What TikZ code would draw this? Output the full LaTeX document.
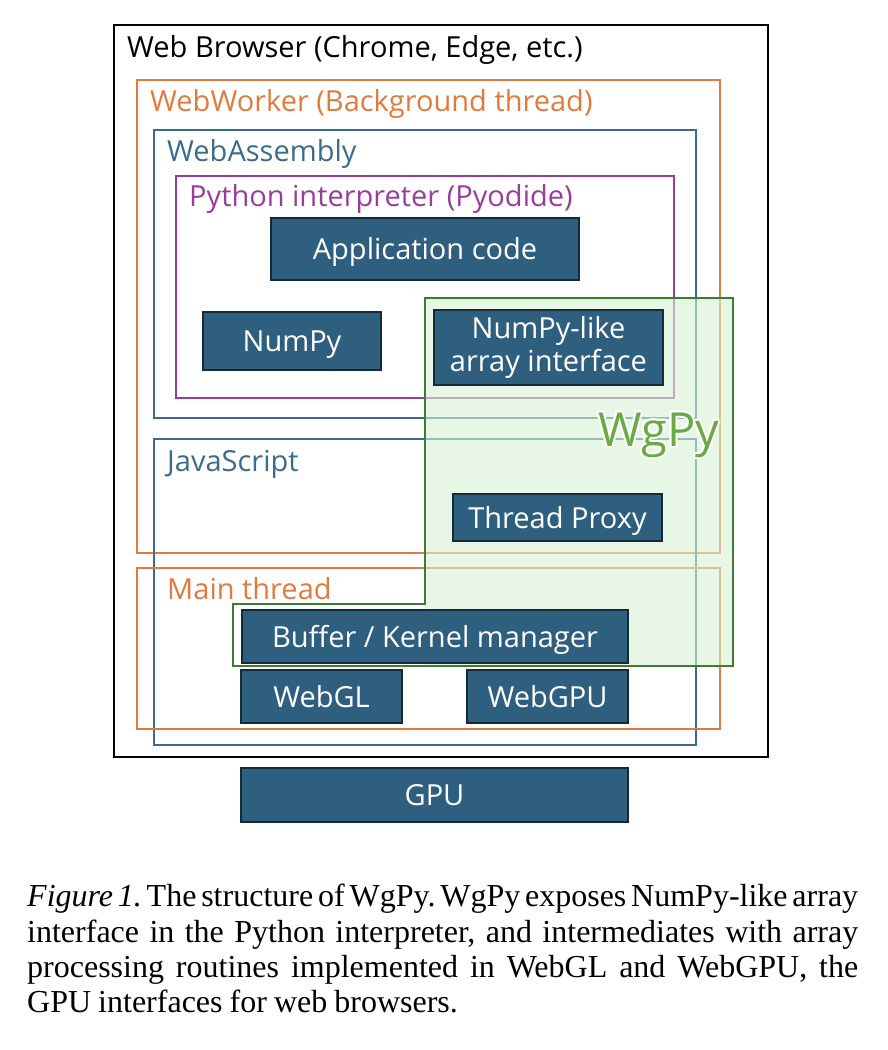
\documentclass[tikz,border=0pt]{standalone}
\usepackage{fontspec}
\setmainfont{Liberation Serif}
\newfontfamily\diagfont{Open Sans}
\usetikzlibrary{fit}
\definecolor{nodefill}{HTML}{2F5F7F}
\definecolor{nodeline}{HTML}{14293A}
\definecolor{worange}{HTML}{E07A3F}
\definecolor{wblue}{HTML}{3A6C8E}
\definecolor{wpurple}{HTML}{993D9C}
\definecolor{wgreenline}{HTML}{3E7C33}
\definecolor{wgreenfill}{HTML}{D8F1D4}
\definecolor{wgreentext}{HTML}{6AAA44}
\begin{document}
\begin{tikzpicture}[x=1pt,y=-1pt,
  containerbox/.style={draw=#1, line width=1.8pt, inner sep=0pt},
  containerlabel/.style={anchor=base west, inner sep=0pt, text=#1, font=\diagfont\fontsize{29}{33}\selectfont},
  darkbox/.style={draw=nodeline, fill=nodefill, line width=1.6pt, inner sep=0pt, text=white, align=center,
    font=\diagfont\fontsize{29}{33}\selectfont},
  oneline/.style={text height=21pt, text depth=0pt},
  wgpystyle/.style={anchor=base west, inner sep=0pt, font=\diagfont\fontsize{47}{52}\selectfont}]
\useasboundingbox (0,0) rectangle (888,1050);
% containers
\node[containerbox=black, fit={(114,25) (768,757)}] (browser) {};
\node[containerlabel=black] (browserlbl) at (127,57) {Web Browser (Chrome, Edge, etc.)};
\node[containerbox=worange, fit={(137,80) (720,553)}] (worker) {};
\node[containerlabel=worange] (workerlbl) at (150,111) {WebWorker (Background thread)};
\node[containerbox=wblue, fit={(154,130) (696,418)}] (wasm) {};
\node[containerlabel=wblue] (wasmlbl) at (167,161) {WebAssembly};
\node[containerbox=wpurple, fit={(176,176) (674,398)}] (python) {};
\node[containerlabel=wpurple] (pythonlbl) at (189,206) {Python interpreter (Pyodide)};
\node[containerbox=wblue, fit={(154,439) (696,745)}] (js) {};
\node[containerlabel=wblue] (jslbl) at (167,471) {JavaScript};
\node[containerbox=worange, fit={(137,568) (720,729)}] (mainthr) {};
\node[containerlabel=worange] (mainlbl) at (167,599) {Main thread};
% WgPy region
\fill[wgreenfill, fill opacity=0.6] (425,298) rectangle (733,666);
\draw[wgreenline, line width=1.8pt] (425,298) -- (733,298) -- (733,666) -- (233,666) -- (233,604) -- (425,604) -- cycle;
% dark boxes
\node[darkbox, oneline, minimum width=308pt, minimum height=62pt] (app) at (425,249) {Application code};
\node[darkbox, oneline, minimum width=178pt, minimum height=58pt] (numpy) at (292,341) {NumPy};
\node[darkbox, minimum width=229pt, minimum height=75pt] (nplike) at (548.5,347.5) {NumPy-like\\array interface};
\node[darkbox, oneline, minimum width=209pt, minimum height=47pt] (proxy) at (557.5,517.5) {Thread Proxy};
\node[darkbox, oneline, minimum width=386pt, minimum height=53pt] (bkm) at (435,636.5) {Buffer / Kernel manager};
\node[darkbox, oneline, minimum width=161pt, minimum height=53pt] (webgl) at (321.5,696.5) {WebGL};
\node[darkbox, oneline, minimum width=161pt, minimum height=53pt] (webgpu) at (547.5,696.5) {WebGPU};
\node[darkbox, oneline, minimum width=387pt, minimum height=54pt] (gpu) at (434.5,795) {GPU};
% WgPy label with white halo
\foreach \dx/\dy [count=\i] in {-2/0,2/0,0/-2,0/2,-1.4/-1.4,1.4/1.4,-1.4/1.4,1.4/-1.4}
  \node[wgpystyle, text=white] (halo\i) at (598+\dx,446+\dy) {WgPy};
\node[wgpystyle, text=wgreentext] (wgpy) at (598,446) {WgPy};
% caption
\node[anchor=north west, inner sep=0pt, text width=831pt, align=justify,
      font=\fontsize{32}{35.3}\selectfont] (caption) at (27,884)
  {\frenchspacing\spaceskip=0.22em plus 0.3em minus 0.1em
   \textit{Figure 1.} The structure of WgPy. WgPy exposes NumPy-like array\linebreak
   interface in the Python interpreter, and intermediates with array\linebreak
   processing routines implemented in WebGL and WebGPU, the\linebreak
   GPU interfaces for web browsers.};
\end{tikzpicture}
\end{document}
